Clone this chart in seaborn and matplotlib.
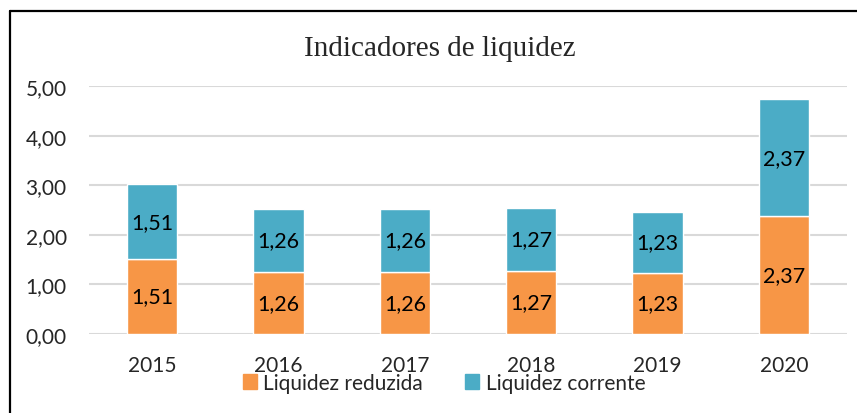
import matplotlib
matplotlib.use("Agg")
import matplotlib.pyplot as plt
from matplotlib.lines import Line2D
from matplotlib.patches import Patch
import seaborn as sns
import pandas as pd

# dados do grafico
anos = ["2015", "2016", "2017", "2018", "2019", "2020"]
liquidez_reduzida = [1.51, 1.26, 1.26, 1.27, 1.23, 2.37]
liquidez_corrente = [1.51, 1.26, 1.26, 1.27, 1.23, 2.37]
yticks = [0, 1, 2, 3, 4, 5]

cor_reduzida = "#F79646"
cor_corrente = "#4BACC6"

df = pd.DataFrame({"ano": anos, "reduzida": liquidez_reduzida, "corrente": liquidez_corrente})

sns.set_style("white")
plt.rcParams["font.family"] = ["Lato", "DejaVu Sans"]

fig = plt.figure(figsize=(8.57, 4.14), dpi=100)
ax = fig.add_axes([89 / 857, 1 - 335 / 414, 758 / 857, 248 / 414])

sns.barplot(data=df, x="ano", y="reduzida", color=cor_reduzida, saturation=1,
            width=0.4, ax=ax, zorder=3)
sns.barplot(data=df, x="ano", y="corrente", bottom=df["reduzida"], color=cor_corrente,
            saturation=1, width=0.4, ax=ax, zorder=3)

def fmt(v):
    return f"{v:.2f}".replace(".", ",")

ax.bar_label(ax.containers[0], labels=[fmt(v) for v in liquidez_reduzida],
             label_type="center", fontsize=15.5, color="black")
ax.bar_label(ax.containers[1], labels=[fmt(v) for v in liquidez_corrente],
             label_type="center", fontsize=15.5, color="black")

ax.set_ylim(0, 5)
ax.set_xlim(-0.5, len(anos) - 0.5)
ax.set_yticks(yticks)
ax.set_yticklabels([fmt(v) for v in yticks], fontsize=15)
ax.tick_params(axis="x", labelsize=15, length=0, pad=15)
ax.tick_params(axis="y", length=0, pad=16)
ax.set_xlabel("")
ax.set_ylabel("")
ax.yaxis.grid(True, color="#D9D9D9", linewidth=1.5, zorder=0)
ax.set_axisbelow(True)
for s in ax.spines.values():
    s.set_visible(False)

fig.text(440 / 857, 1 - 49 / 414, "Indicadores de liquidez", ha="center", va="center",
         fontsize=21, family="Liberation Serif")

handles = [Patch(color=cor_reduzida, label="Liquidez reduzida"),
           Patch(color=cor_corrente, label="Liquidez corrente")]
fig.legend(handles=handles, loc="center", bbox_to_anchor=(444 / 857, 1 - 384 / 414), ncol=2,
           frameon=False, fontsize=15, handlelength=0.7, handleheight=0.7,
           handletextpad=0.3, columnspacing=2.0, borderpad=0)

# moldura (so aparecem a borda de cima e a da esquerda)
fig.add_artist(Line2D([10 / 857, 10 / 857], [0, 1 - 12 / 414], color="black", linewidth=1.6,
                      transform=fig.transFigure))
fig.add_artist(Line2D([10 / 857, 1], [1 - 12 / 414, 1 - 12 / 414], color="black", linewidth=1.6,
                      transform=fig.transFigure))

fig.savefig("out.png", dpi=100)
